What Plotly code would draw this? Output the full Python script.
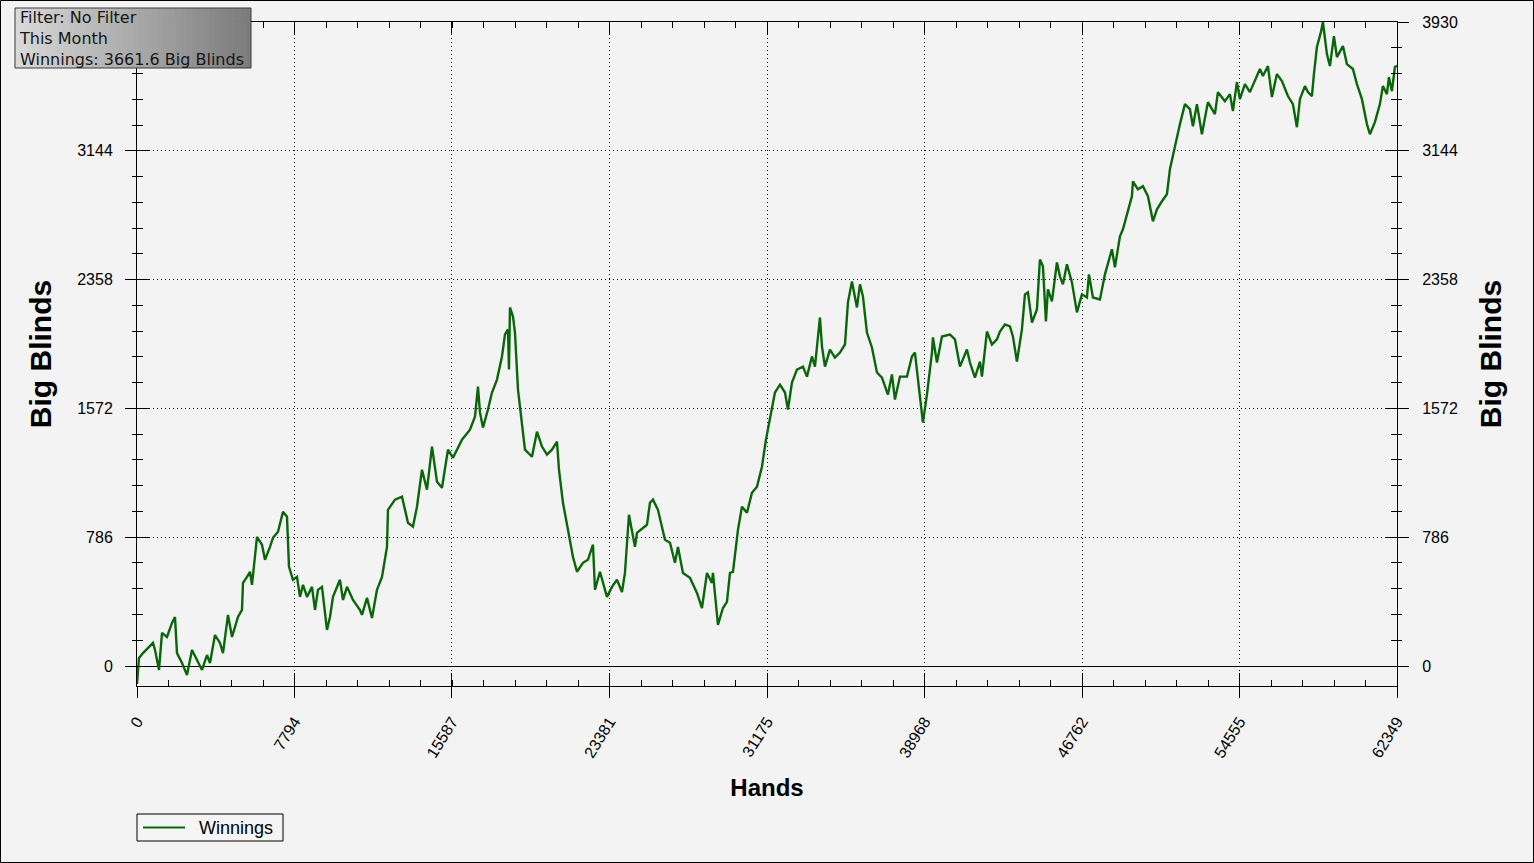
import plotly.graph_objects as go

# ---- data ----
hands = [0, 99, 297, 792, 891, 1089, 1237, 1484, 1732, 1880, 1979, 2227, 2474, 2721, 2969, 3216, 3464, 3612,
         3859, 4107, 4255, 4503, 4701, 4997, 5195, 5245, 5443, 5591, 5690, 5938, 6185, 6333, 6581, 6729, 6977,
         7224, 7422, 7521, 7719, 7917, 8065, 8214, 8412, 8659, 8807, 8956, 9154, 9401, 9550, 9698, 10044, 10193,
         10391, 10688, 11034, 11133, 11380, 11628, 11875, 12123, 12370, 12419, 12766, 13112, 13409, 13656, 13854,
         14102, 14349, 14597, 14844, 15091, 15388, 15636, 16081, 16477, 16724, 16873, 16972, 17120, 17367, 17565,
         17813, 18060, 18209, 18357, 18407, 18456, 18604, 18703, 18852, 19050, 19198, 19545, 19792, 20039, 20287,
         20534, 20782, 20881, 21078, 21326, 21573, 21771, 22068, 22315, 22563, 22662, 22909, 23256, 23503, 23750,
         23998, 24146, 24344, 24641, 24740, 25235, 25383, 25532, 25779, 26125, 26373, 26620, 26769, 27016, 27362,
         27709, 27956, 28204, 28451, 28500, 28748, 28995, 29193, 29342, 29490, 29737, 29935, 30183, 30430, 30678,
         30925, 31123, 31321, 31568, 31816, 32063, 32211, 32409, 32657, 32954, 33152, 33399, 33547, 33795, 33894,
         34042, 34290, 34537, 34784, 35032, 35180, 35378, 35626, 35774, 35922, 36120, 36368, 36615, 36863, 37159,
         37357, 37506, 37753, 38100, 38347, 38495, 38743, 38891, 39089, 39337, 39386, 39584, 39831, 40227, 40475,
         40722, 41068, 41217, 41464, 41712, 41811, 42058, 42305, 42553, 42701, 42949, 43196, 43344, 43542, 43790,
         43938, 44087, 44285, 44532, 44680, 44829, 44977, 45076, 45274, 45522, 45670, 45818, 46016, 46264, 46511,
         46759, 47006, 47105, 47303, 47649, 47897, 48243, 48391, 48639, 48787, 49035, 49233, 49282, 49529, 49777,
         50024, 50272, 50470, 50717, 50964, 51113, 51360, 51608, 51855, 52102, 52251, 52449, 52696, 52993, 53339,
         53488, 53834, 54082, 54230, 54428, 54576, 54824, 55071, 55319, 55566, 55714, 55962, 56160, 56407, 56655,
         56951, 57199, 57397, 57545, 57793, 57941, 58139, 58238, 58386, 58584, 58683, 58881, 59030, 59228, 59376,
         59673, 59871, 60168, 60366, 60613, 60860, 61009, 61256, 61504, 61652, 61850, 61949, 62097, 62245, 62349]

big_blinds = [-110, 49, 79, 141, 98, -24, 202, 177, 263, 299, 79, 18, -55, 98, 37, -24, 67, 18,
              189, 141, 79, 312, 177, 299, 342, 507, 544, 575, 495, 788, 740, 648, 727, 782, 819,
              941, 911, 605, 526, 544, 422, 495, 422, 483, 342, 465, 483, 220, 299, 422, 526, 403,
              483, 403, 342, 312, 416, 293, 465, 544, 727, 953, 1015, 1033, 874, 850, 972,
              1198, 1076, 1339, 1125, 1088, 1320, 1271, 1381, 1442, 1522, 1705, 1546, 1455, 1565, 1669,
              1748, 1889, 2023, 2054, 1809, 2188, 2133, 2035, 1687, 1461, 1320, 1277, 1430, 1339, 1290,
              1320, 1369, 1198, 996, 831, 666, 575, 630, 648, 740, 465, 575, 422, 483, 526,
              452, 568, 923, 727, 813, 862, 996, 1015, 953, 770, 752, 630, 727, 568, 538,
              446, 354, 568, 507, 568, 251, 354, 391, 568, 575, 831, 972, 935, 1057, 1094,
              1216, 1381, 1504, 1669, 1717, 1669, 1565, 1730, 1809, 1827, 1766, 1889, 1827, 2127, 1950,
              1827, 1931, 1882, 1913, 1962, 2219, 2347, 2188, 2329, 2255, 2035, 1944, 1791, 1760, 1656,
              1779, 1626, 1766, 1766, 1889, 1913, 1644, 1485, 1656, 1913, 2005, 1852, 2011, 2023, 1993,
              1827, 1931, 1852, 1760, 1858, 1766, 2041, 1962, 1993, 2041, 2084, 2072, 2011, 1858, 2054,
              2268, 2280, 2096, 2176, 2481, 2439, 2103, 2298, 2225, 2463, 2378, 2329, 2451, 2341, 2158,
              2268, 2249, 2390, 2249, 2237, 2390, 2543, 2433, 2622, 2665, 2769, 2867, 2958, 2909, 2928,
              2867, 2714, 2787, 2836, 2879, 3032, 3172, 3307, 3429, 3398, 3294, 3429, 3245, 3441, 3368,
              3502, 3447, 3490, 3386, 3563, 3459, 3551, 3502, 3569, 3643, 3600, 3661, 3472, 3612, 3569,
              3478, 3429, 3288, 3459, 3539, 3502, 3478, 3612, 3777, 3869, 3930, 3734, 3661, 3844, 3716,
              3783, 3673, 3643, 3551, 3459, 3307, 3245, 3319, 3429, 3539, 3490, 3594, 3508, 3655, 3662]

x_ticks = [0, 7794, 15587, 23381, 31175, 38968, 46762, 54555, 62349]
y_ticks = [0, 786, 1572, 2358, 3144, 3930]
# on the left the top label is hidden behind the info box in the reference
y_labels_left = ["0", "786", "1572", "2358", "3144", ""]
y_labels_right = ["0", "786", "1572", "2358", "3144", "3930"]
info_lines = ["Filter: No Filter", "This Month", "Winnings: 3661.6 Big Blinds"]
series_name = "Winnings"

# ---- layout geometry (pixels) ----
W, H = 1534, 863
L, R, T, B = 137, 137, 22, 177
PW, PH = W - L - R, H - T - B


def px_x(x):
    return (x - L) / PW


def px_y(y):
    return (H - B - y) / PH


FONT = "Liberation Sans, Arial, sans-serif"
LINE_COLOR = "#0b660b"
DOT = "1px,3px"

fig = go.Figure()
fig.add_trace(go.Scatter(x=hands, y=big_blinds, mode="lines", name=series_name,
                         line=dict(color=LINE_COLOR, width=2.4), hoverinfo="x+y",
                         showlegend=False))
# helper (invisible) traces that make the overlay axes render
for xa, ya in [("x2", "y2"), ("x", "y3"), ("x", "y4")]:
    fig.add_trace(go.Scatter(x=hands, y=big_blinds, mode="lines", xaxis=xa, yaxis=ya,
                             opacity=0, showlegend=False, hoverinfo="skip",
                             line=dict(width=0.1)))

x_range = [0, 62349]
y_range = [-122, 3930]
common = dict(showline=True, linecolor="black", linewidth=1, tickcolor="black",
              tickfont=dict(family=FONT, size=16, color="black"))

fig.update_layout(
    width=W, height=H,
    margin=dict(l=L, r=R, t=T, b=B, autoexpand=False),
    paper_bgcolor="#f3f3f3", plot_bgcolor="#f3f3f3",
    font=dict(family=FONT, color="black"),
    showlegend=False,
    xaxis=dict(range=x_range, tickvals=x_ticks, ticktext=[str(v) for v in x_ticks],
               ticks="outside", ticklen=11, tickangle=-58, ticklabelstandoff=8,
               showgrid=True, gridcolor="black", griddash=DOT, gridwidth=1,
               zeroline=False, mirror=False,
               title=dict(text="Hands", font=dict(family=FONT, size=24, weight="bold"), standoff=19),
               **common),
    xaxis2=dict(range=x_range, overlaying="x", side="bottom", tickvals=x_ticks,
                ticks="inside", ticklen=13, showticklabels=False, showgrid=False,
                zeroline=False, mirror="ticks",
                minor=dict(dtick=62349 / 40, tick0=0, ticks="inside", ticklen=6,
                           tickcolor="black", showgrid=False),
                **common),
    yaxis=dict(range=y_range, tickvals=y_ticks, ticktext=y_labels_left,
               ticks="outside", ticklen=11, ticklabelstandoff=9,
               showgrid=True, gridcolor="black", griddash=DOT, gridwidth=1,
               zeroline=True, zerolinecolor="black", zerolinewidth=1,
               minor=dict(dtick=157.2, tick0=0, ticks="outside", ticklen=4,
                          tickcolor="black", showgrid=False),
               title=dict(text="Big Blinds", font=dict(family=FONT, size=30, weight="bold"), standoff=16),
               **common),
    yaxis2=dict(range=y_range, overlaying="y", side="right", tickvals=y_ticks,
                ticktext=y_labels_right,
                ticks="outside", ticklen=11, ticklabelstandoff=10, showgrid=False,
                zeroline=False,
                minor=dict(dtick=157.2, tick0=0, ticks="outside", ticklen=4,
                           tickcolor="black", showgrid=False),
                title=dict(text="Big Blinds", font=dict(family=FONT, size=30, weight="bold"), standoff=23),
                **common),
    yaxis3=dict(range=y_range, overlaying="y", side="left", tickvals=y_ticks,
                ticks="inside", ticklen=12, showticklabels=False, showgrid=False, zeroline=False,
                minor=dict(dtick=157.2, tick0=0, ticks="inside", ticklen=6,
                           tickcolor="black", showgrid=False),
                **common),
    yaxis4=dict(range=y_range, overlaying="y", side="right", tickvals=y_ticks,
                ticks="inside", ticklen=12, showticklabels=False, showgrid=False, zeroline=False,
                minor=dict(dtick=157.2, tick0=0, ticks="inside", ticklen=6,
                           tickcolor="black", showgrid=False),
                **common),
)

shapes = []
# outer frame of the picture
shapes.append(dict(type="rect", xref="paper", yref="paper",
                   x0=px_x(0.5), x1=px_x(W - 0.5), y0=px_y(H - 0.5), y1=px_y(0.5),
                   line=dict(color="black", width=1), fillcolor="rgba(0,0,0,0)", layer="above"))
# info box with a horizontal gray gradient
bx0, bx1, by0, by1 = 15, 251, 8, 68
n = 40
c0, c1 = 216, 124
for i in range(n):
    g = round(c0 + (c1 - c0) * i / (n - 1))
    xa = bx0 + (bx1 - bx0) * i / n
    xb = bx0 + (bx1 - bx0) * (i + 1) / n + 0.6
    shapes.append(dict(type="rect", xref="paper", yref="paper",
                       x0=px_x(xa), x1=px_x(min(xb, bx1)), y0=px_y(by1), y1=px_y(by0),
                       line=dict(width=0), fillcolor=f"rgb({g},{g},{g})", layer="above"))
shapes.append(dict(type="rect", xref="paper", yref="paper",
                   x0=px_x(bx0), x1=px_x(bx1), y0=px_y(by1), y1=px_y(by0),
                   line=dict(color="#3a3a3a", width=1), fillcolor="rgba(0,0,0,0)", layer="above"))
# legend box (drawn to match the reference's compact legend)
lx0, lx1, ly0, ly1 = 137, 283, 814, 841
shapes.append(dict(type="rect", xref="paper", yref="paper",
                   x0=px_x(lx0), x1=px_x(lx1), y0=px_y(ly1), y1=px_y(ly0),
                   line=dict(color="black", width=1), fillcolor="#f5f5f5", layer="above"))
shapes.append(dict(type="line", xref="paper", yref="paper",
                   x0=px_x(143), x1=px_x(185), y0=px_y(827.5), y1=px_y(827.5),
                   line=dict(color=LINE_COLOR, width=2.2), layer="above"))
fig.update_layout(shapes=shapes)

fig.add_annotation(text=series_name, xref="paper", yref="paper",
                   x=px_x(197), y=px_y(827.5), xanchor="left", yanchor="middle",
                   showarrow=False, font=dict(family=FONT, size=18, color="black"))

fig.add_annotation(text="<br>".join(info_lines), xref="paper", yref="paper",
                   x=px_x(17), y=px_y(38.5), xanchor="left", yanchor="middle",
                   showarrow=False, align="left",
                   font=dict(family="DejaVu Sans, Verdana, sans-serif", size=16, color="#161616"))

fig.write_html("out.html",
               config={"displayModeBar": False},
               post_script="document.body.style.margin='0px';"
                           "document.body.style.background='#f3f3f3';")
